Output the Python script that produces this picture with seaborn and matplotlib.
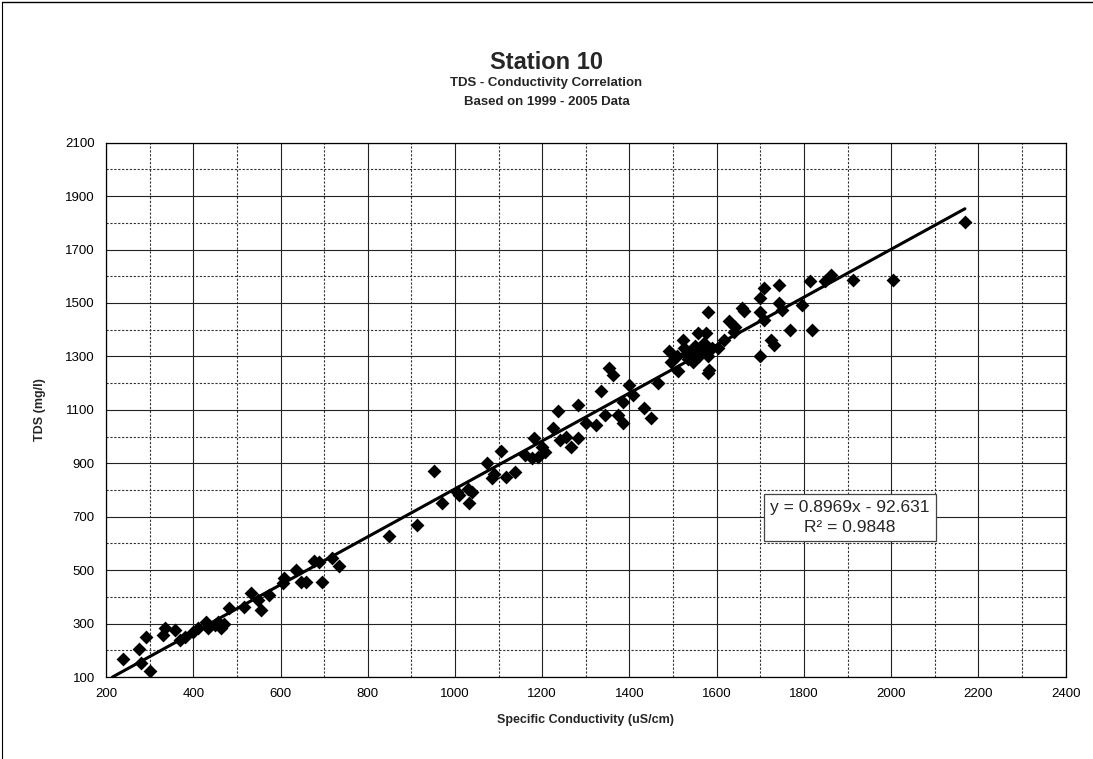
import numpy as np
import pandas as pd
import matplotlib
matplotlib.use("Agg")
import matplotlib.pyplot as plt
from matplotlib.lines import Line2D
import seaborn as sns

# ---------------- data ----------------
conductivity = [
    240, 276, 281, 291, 300, 331, 335, 357, 369, 380, 399, 411, 430, 434, 449,
    456, 464, 470, 483, 517, 533, 548, 555, 574, 605, 609, 635, 647, 658, 677,
    689, 696, 719, 734,
    848, 913, 951, 970, 1004, 1010, 1031, 1038, 1030,
    1073, 1084, 1090, 1105, 1118, 1137, 1160, 1176, 1191, 1180, 1200, 1206,
    1225, 1237, 1240, 1255, 1267, 1282, 1282, 1301, 1324, 1335, 1343, 1354,
    1362, 1373, 1385, 1385, 1400, 1408, 1434, 1449, 1465,
    1491, 1495, 1511, 1522, 1510, 1525, 1530, 1535, 1540, 1545, 1550, 1555,
    1556, 1560, 1565, 1570, 1575, 1579, 1579, 1580, 1583, 1590, 1602, 1617,
    1628, 1640, 1643, 1659, 1662, 1700, 1700, 1700, 1708, 1708, 1724, 1731,
    1742, 1742, 1750, 1767, 1796, 1815, 1819, 1848, 1861, 1913, 2005, 2169,
]
tds = [
    167, 204, 151, 251, 124, 257, 282, 276, 239, 251, 270, 282, 307, 282, 295,
    307, 282, 300, 357, 363, 413, 388, 351, 407, 451, 470, 501, 457, 457, 536,
    532, 457, 545, 516,
    628, 669, 873, 750, 794, 780, 750, 794, 805,
    900, 844, 860, 946, 850, 869, 930, 919, 925, 994, 960, 944,
    1031, 1094, 988, 1000, 962, 994, 1119, 1050, 1044, 1169, 1081, 1256,
    1231, 1081, 1050, 1131, 1194, 1156, 1106, 1069, 1200,
    1319, 1281, 1244, 1362, 1300, 1330, 1310, 1290, 1310, 1280, 1340, 1320,
    1387, 1300, 1325, 1350, 1387, 1468, 1237, 1300, 1250, 1330, 1331, 1362,
    1431, 1390, 1412, 1481, 1470, 1300, 1468, 1518, 1437, 1556, 1362, 1343,
    1499, 1568, 1475, 1400, 1493, 1581, 1400, 1581, 1606, 1587, 1587, 1805,
]
slope = 0.8969
intercept = -92.631
r_squared = 0.9848
x_ticks = list(range(200, 2401, 200))
y_ticks = list(range(100, 2101, 200))

title = "Station 10"
subtitle1 = "TDS - Conductivity Correlation"
subtitle2 = "Based on 1999 - 2005 Data"
x_label = "Specific Conductivity (uS/cm)"
y_label = "TDS (mg/l)"

# ---------------- style ----------------
sns.set_theme(style="white")
plt.rcParams['font.family'] = ['Liberation Sans', 'DejaVu Sans']

fig = plt.figure(figsize=(10.93, 7.59), dpi=100)
ax = fig.add_axes([0.097, 0.108, 0.878, 0.704])

df = pd.DataFrame({"cond": conductivity, "tds": tds})
sns.scatterplot(data=df, x="cond", y="tds", marker="D", color="black",
                s=50, edgecolor="black", linewidth=0, ax=ax, zorder=3,
                legend=False)

# linear trendline (Excel style) from the axis floor to the last sample
x0 = (y_ticks[0] - intercept) / slope
line_x = np.array([x0, max(conductivity)])
sns.lineplot(x=line_x, y=slope * line_x + intercept, color="black",
             linewidth=2.2, ax=ax, zorder=4)

ax.set_xlim(x_ticks[0], x_ticks[-1])
ax.set_ylim(y_ticks[0], y_ticks[-1])
ax.set_xticks(x_ticks)
ax.set_yticks(y_ticks)
ax.set_xticks(np.arange(x_ticks[0] + 100, x_ticks[-1], 200), minor=True)
ax.set_yticks(np.arange(y_ticks[0] + 100, y_ticks[-1], 200), minor=True)
ax.tick_params(axis="both", which="major", labelsize=9.5, length=0, pad=8,
               colors="black")
ax.tick_params(axis="both", which="minor", length=0)
ax.grid(True, which="major", color="#222222", linewidth=0.8, linestyle="-")
ax.grid(True, which="minor", color="#333333", linewidth=0.8, linestyle=(0, (2, 1.5)))
ax.set_axisbelow(True)
for s in ax.spines.values():
    s.set_color("black")
    s.set_linewidth(0.9)

ax.set_xlabel(x_label, fontsize=9, fontweight="bold", labelpad=10)
ax.set_ylabel(y_label, fontsize=9, fontweight="bold", labelpad=14)

fig.text(0.5, 0.918, title, ha="center", va="center", fontsize=17, fontweight="bold")
fig.text(0.5, 0.890, subtitle1, ha="center", va="center", fontsize=9.5, fontweight="bold")
fig.text(0.5, 0.865, subtitle2, ha="center", va="center", fontsize=9.5, fontweight="bold")

ax.text(1905, 697, f"y = {slope}x - {abs(intercept)}\nR\u00b2 = {r_squared}",
        ha="center", va="center", fontsize=12.5, linespacing=1.4, zorder=5,
        bbox=dict(boxstyle="square,pad=0.35", facecolor="white",
                  edgecolor="#444444", linewidth=0.9))

# outer frame of the scanned chart (top and left edges)
fig.add_artist(Line2D([0.002, 1.0], [0.997, 0.997], color="black", linewidth=1.0,
                      transform=fig.transFigure))
fig.add_artist(Line2D([0.002, 0.002], [0.0, 0.997], color="black", linewidth=0.8,
                      transform=fig.transFigure))

fig.savefig("out.png", dpi=100)
